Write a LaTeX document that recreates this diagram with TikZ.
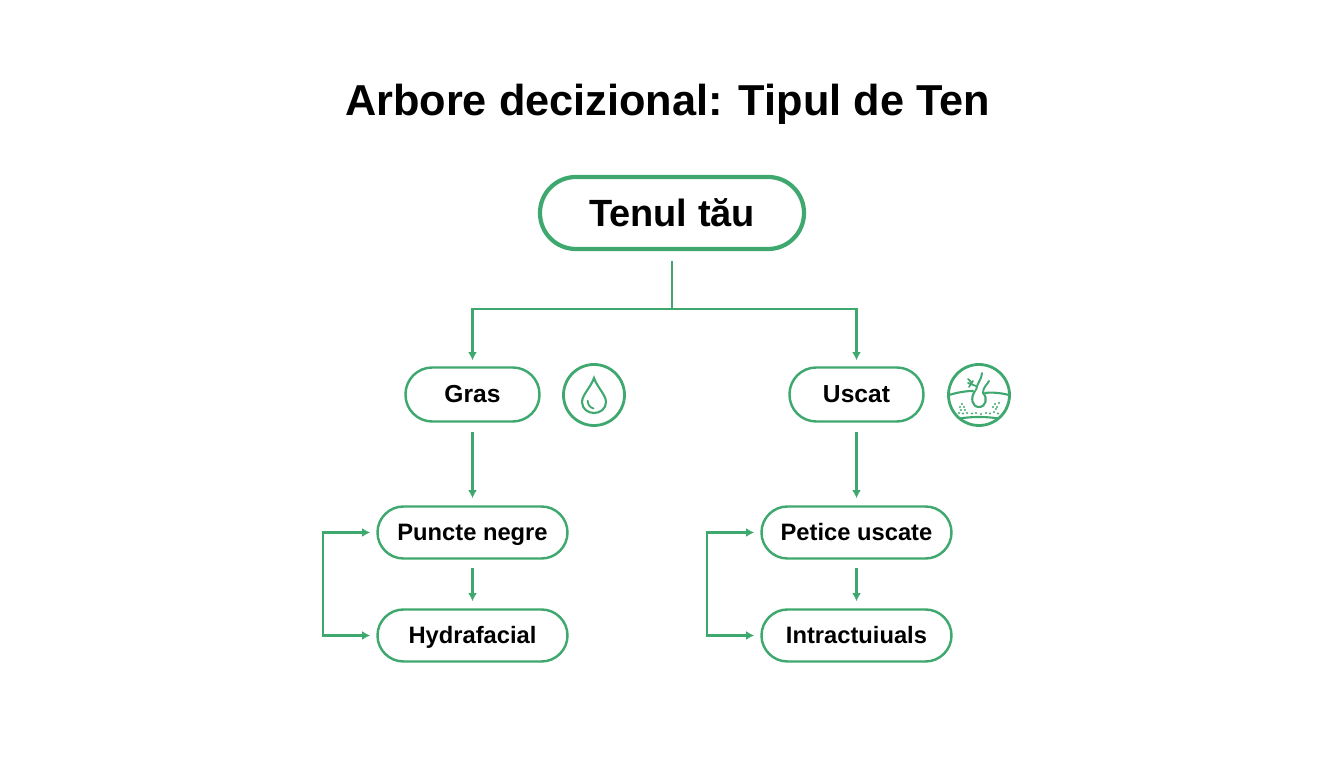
\documentclass[tikz,border=0pt]{standalone}
\usepackage{xcolor}
\usepackage{fontspec}
\setmainfont{Liberation Sans}
\usetikzlibrary{arrows.meta}
\definecolor{tengreen}{HTML}{3FA86F}
\begin{document}
\begin{tikzpicture}
        \tikzstyle{rootbox}=[rectangle,rounded corners=10.2pt,draw=tengreen,line width=1.2pt,
        inner sep=0pt,minimum width=26.4mm,minimum height=7.2mm,text height=3.2mm,text depth=0.5mm,
        font=\fontsize{10.8}{12}\selectfont\bfseries]
        \tikzstyle{typebox}=[rectangle,rounded corners=7.6pt,draw=tengreen,line width=0.7pt,
        inner sep=0pt,minimum width=13.4mm,minimum height=5.4mm,text height=2.2mm,text depth=0.5mm,
        font=\fontsize{7}{8}\selectfont\bfseries]
        \tikzstyle{stepbox}=[rectangle,rounded corners=7.4pt,draw=tengreen,line width=0.7pt,
        inner sep=0pt,minimum width=19mm,minimum height=5.2mm,text height=2.2mm,text depth=0.5mm,
        font=\fontsize{6.75}{8}\selectfont\bfseries]
        \tikzstyle{iconring}=[circle,draw=tengreen,line width=0.8pt,inner sep=0pt,minimum size=6.1mm]
        \tikzstyle{link}=[line width=0.6pt,draw=tengreen]
        \tikzstyle{tip}=[-{Latex[length=2.3pt,width=2.5pt]}]
        \tikzstyle{thin}=[line width=0.5pt,draw=tengreen,line cap=round]
        \useasboundingbox (0,0) rectangle (13.44,7.68);
        \node at (6.675,6.64) (title) {\fontsize{12.32}{14}\selectfont\bfseries Arbore decizional: Tipul de Ten};
        \node at (6.72,5.55) [rootbox] (root) {Tenul tău};
        \node at (4.725,3.735) [typebox] (gras) {Gras};
        \node at (8.565,3.735) [typebox] (uscat) {Uscat};
        \node at (4.725,2.355) [stepbox] (puncte) {Puncte negre};
        \node at (4.725,1.325) [stepbox] (hydra) {Hydrafacial};
        \node at (8.565,2.355) [stepbox] (petice) {Petice uscate};
        \node at (8.565,1.325) [stepbox] (intra) {Intractuiuals};
        \node at (5.94,3.73) [iconring] (drop) {};
        \node at (9.79,3.73) [iconring] (skin) {};
        \coordinate (fork) at (6.72,4.59);
        \coordinate (loopa) at (3.23,1.84);
        \coordinate (loopb) at (7.07,1.84);
        % tree
        \draw[link,shorten <=0.1cm] (root.south) -- (fork);
        \draw[link,tip,shorten >=0.06cm] (fork) -| (gras.north);
        \draw[link,tip,shorten >=0.06cm] (fork) -| (uscat.north);
        \draw[link,tip,shorten <=0.09cm,shorten >=0.07cm] (gras.south) -- (puncte.north);
        \draw[link,tip,shorten <=0.09cm,shorten >=0.07cm] (uscat.south) -- (petice.north);
        \draw[link,tip,shorten <=0.08cm,shorten >=0.07cm] (puncte.south) -- (hydra.north);
        \draw[link,tip,shorten <=0.08cm,shorten >=0.07cm] (petice.south) -- (intra.north);
        \draw[link,tip,shorten >=0.06cm] (loopa) |- (puncte.west);
        \draw[link,tip,shorten >=0.06cm] (loopa) |- (hydra.west);
        \draw[link,tip,shorten >=0.06cm] (loopb) |- (petice.west);
        \draw[link,tip,shorten >=0.06cm] (loopb) |- (intra.west);
        % drop icon
        \begin{scope}[shift={(drop.center)}]
          \draw[thin,line width=0.6pt] (0,0.17) .. controls (-0.03,0.08) and (-0.12,0) .. (-0.12,-0.07)
            .. controls (-0.12,-0.14) and (-0.06,-0.18) .. (0,-0.18)
            .. controls (0.06,-0.18) and (0.12,-0.14) .. (0.12,-0.07)
            .. controls (0.12,0) and (0.03,0.08) .. (0,0.17) -- cycle;
          \draw[thin] (-0.063,-0.057) .. controls (-0.06,-0.10) and (-0.04,-0.125) .. (-0.005,-0.135);
        \end{scope}
        % skin icon
        \begin{scope}[shift={(skin.center)}]
          \draw[thin,line width=0.6pt] (-0.30,0) .. controls (-0.2,0.03) and (-0.12,0.04) .. (-0.06,0.04);
          \draw[thin,line width=0.6pt] (0.06,0.02) .. controls (0.13,0.03) and (0.22,0.02) .. (0.30,0);
          \draw[thin,line width=0.6pt] (-0.19,-0.235) .. controls (-0.08,-0.215) and (0.08,-0.215) .. (0.19,-0.235);
          \draw[thin,line width=0.6pt] (-0.04,0.04) .. controls (-0.09,-0.03) and (-0.07,-0.12) .. (0,-0.12)
            .. controls (0.07,-0.12) and (0.09,-0.03) .. (0.04,0.02);
          \draw[thin,line width=0.55pt] (-0.03,0.05) .. controls (-0.02,0.12) and (0.03,0.16) .. (0.03,0.22);
          \draw[thin,line width=0.55pt] (0.04,0.02) .. controls (0.04,0.08) and (0.08,0.1) .. (0.10,0.14);
          \draw[thin] (-0.11,0.12) -- (-0.03,0.09) (-0.1,0.08) -- (-0.06,0.14) (-0.11,0.16) -- (-0.07,0.12);
          \foreach \px/\py in {-0.17/-0.09,-0.19/-0.12,-0.15/-0.12,-0.18/-0.15,-0.14/-0.15,-0.2/-0.18,-0.16/-0.185,-0.12/-0.18,-0.07/-0.185,-0.03/-0.18,0.02/-0.19,0.07/-0.18,0.11/-0.185,0.15/-0.17,0.19/-0.185,0.14/-0.12,0.16/-0.09,0.18/-0.12,0.2/-0.08,0.17/-0.14}
            \fill[tengreen] (\px,\py) circle (0.012);
        \end{scope}
      \end{tikzpicture}
\end{document}
